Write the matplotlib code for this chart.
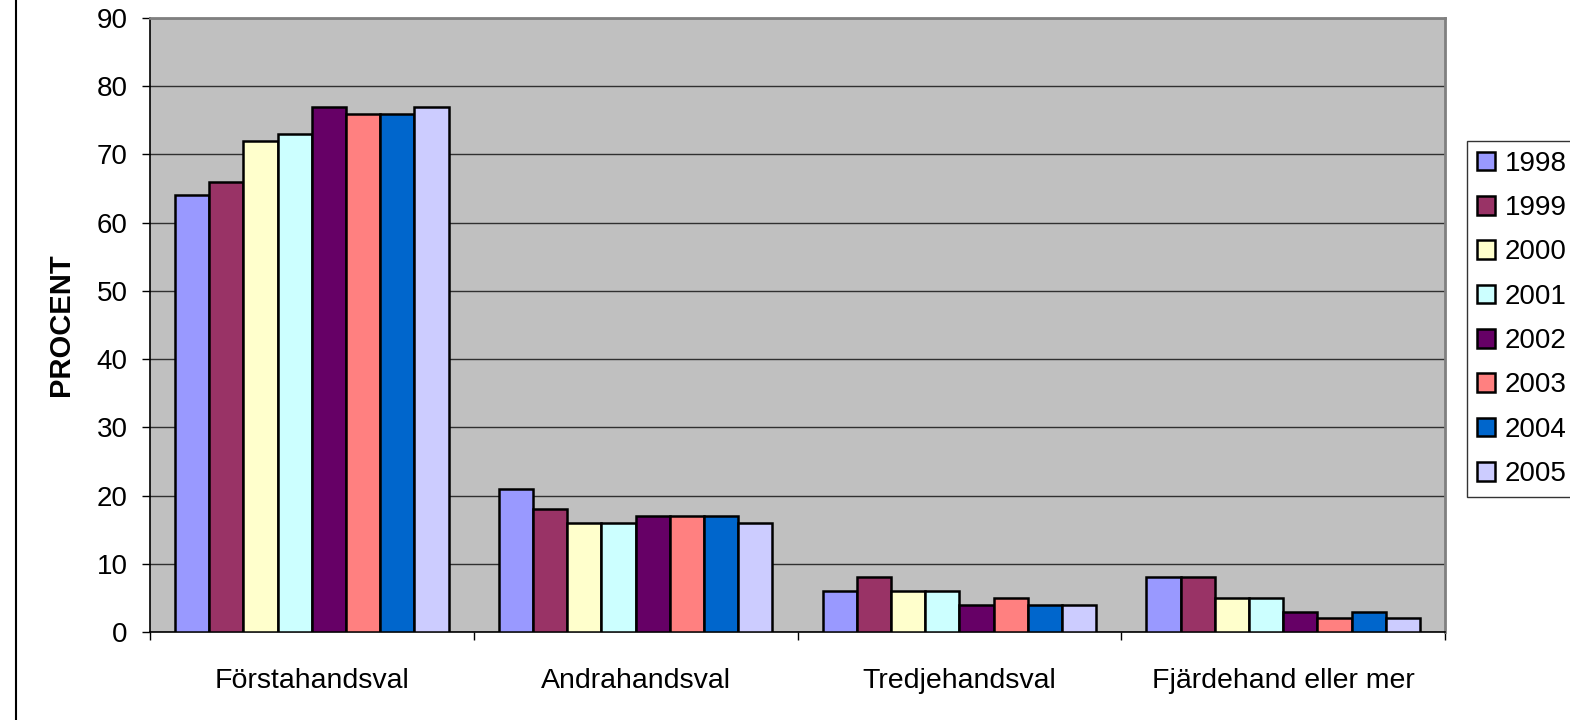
import numpy as np
import matplotlib
matplotlib.use("Agg")
import matplotlib.pyplot as plt
from matplotlib.lines import Line2D

plt.rcParams["font.family"] = ["Liberation Sans", "DejaVu Sans"]

categories = ["Förstahandsval", "Andrahandsval", "Tredjehandsval", "Fjärdehand eller mer"]
years = ["1998", "1999", "2000", "2001", "2002", "2003", "2004", "2005"]
values = {
    "1998": [64, 21, 6, 8],
    "1999": [66, 18, 8, 8],
    "2000": [72, 16, 6, 5],
    "2001": [73, 16, 6, 5],
    "2002": [77, 17, 4, 3],
    "2003": [76, 17, 5, 2],
    "2004": [76, 17, 4, 3],
    "2005": [77, 16, 4, 2],
}
colors = ["#9999FF", "#993366", "#FFFFCC", "#CCFFFF",
          "#660066", "#FF8080", "#0066CC", "#CCCCFF"]

W, H = 1570, 720
fig = plt.figure(figsize=(W / 100, H / 100), dpi=100, facecolor="white")
ax = fig.add_axes([150 / W, 1 - 632 / H, (1445 - 150) / W, (632 - 18) / H])
ax.set_facecolor("#C0C0C0")

x = np.arange(len(categories))
bw = 0.845 / len(years)
for i, (yr, col) in enumerate(zip(years, colors)):
    off = (i - (len(years) - 1) / 2) * bw
    ax.bar(x + off, values[yr], width=bw, color=col, edgecolor="black",
           linewidth=1.8, zorder=3, label=yr)

ax.set_xlim(-0.5, len(categories) - 0.5)
ax.set_ylim(0, 90)
ax.set_yticks(range(0, 91, 10))
ax.grid(axis="y", color="#303030", linewidth=1.0, zorder=1)
ax.tick_params(axis="y", direction="out", length=6, width=1, pad=10, labelsize=20)

# category boundary ticks, labels at centres
ax.set_xticks(np.arange(-0.5, len(categories), 1.0))
ax.set_xticklabels([])
ax.set_xticks(x, minor=True)
ax.set_xticklabels(categories, minor=True)
ax.tick_params(axis="x", which="major", direction="out", length=6, width=1)
ax.tick_params(axis="x", which="minor", length=0, pad=26, labelsize=20.5)

for s in ["left", "bottom"]:
    ax.spines[s].set_color("black")
    ax.spines[s].set_linewidth(1.2)
for s in ["top", "right"]:
    ax.spines[s].set_color("#808080")
    ax.spines[s].set_linewidth(2)

ax.set_ylabel("PROCENT", fontsize=21, fontweight="bold", labelpad=16)

handles = [plt.Rectangle((0, 0), 1, 1, facecolor=c, edgecolor="black", linewidth=1.8)
           for c in colors]
leg = fig.legend(handles, years, loc="upper left",
                 bbox_to_anchor=(1467 / W, 1 - 141 / H), fontsize=20,
                 frameon=True, fancybox=False, edgecolor="black",
                 handlelength=0.65, handleheight=0.65, handletextpad=0.35,
                 labelspacing=0.66, borderpad=0.35, borderaxespad=0)
leg.get_frame().set_linewidth(1)

# outer chart border at the left
fig.add_artist(Line2D([16 / W, 16 / W], [0, 1], color="black", linewidth=1.5))

fig.savefig("out.png", dpi=100, facecolor="white")
